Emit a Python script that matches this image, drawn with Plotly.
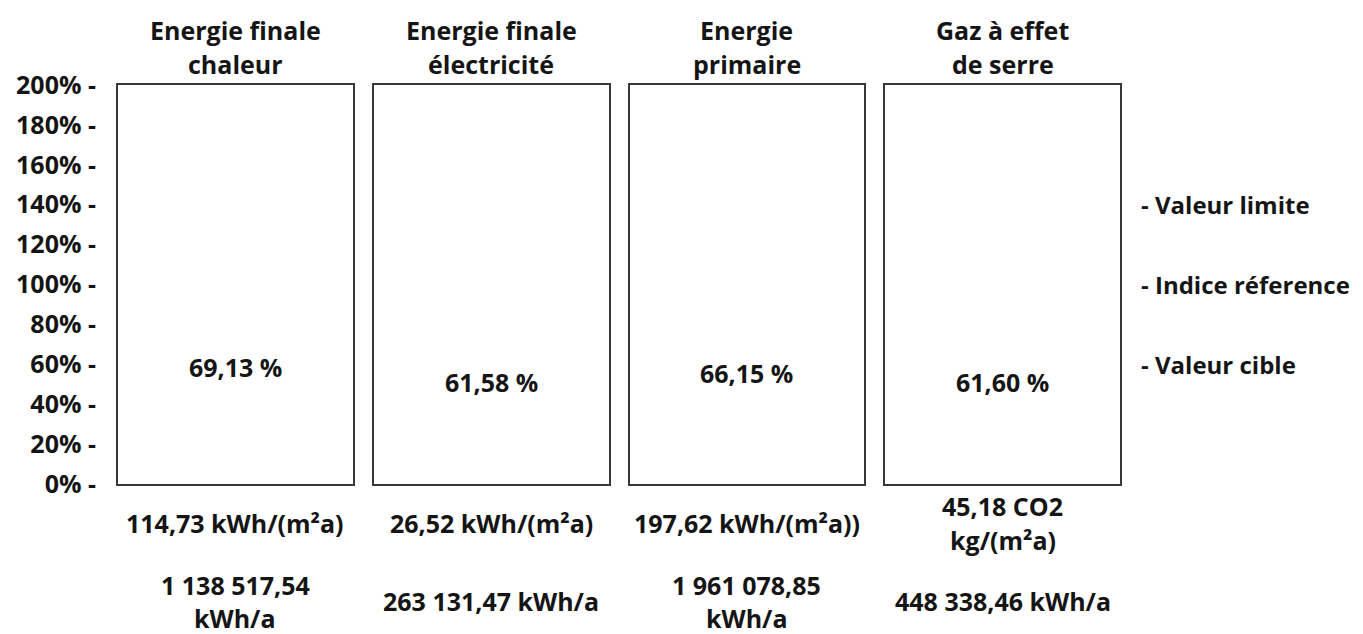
import plotly.graph_objects as go
from plotly.subplots import make_subplots

# ---- data ----
titles = [["Energie finale", "chaleur"],
          ["Energie finale", "électricité"],
          ["Energie", "primaire"],
          ["Gaz à effet", "de serre"]]
percent_values = [69.13, 61.58, 66.15, 61.60]
specific_labels = [["114,73 kWh/(m²a)"],
                   ["26,52 kWh/(m²a)"],
                   ["197,62 kWh/(m²a))"],
                   ["45,18 CO2", "kg/(m²a)"]]
annual_labels = [["1 138 517,54", "kWh/a"],
                 ["263 131,47 kWh/a"],
                 ["1 961 078,85", "kWh/a"],
                 ["448 338,46 kWh/a"]]
y_tick_values = [0, 20, 40, 60, 80, 100, 120, 140, 160, 180, 200]
y_tick_labels = [f"{v}% -" for v in y_tick_values]
ref_levels = [140, 100, 60]
ref_labels = ["- Valeur limite", "- Indice réference", "- Valeur cible"]

FONT = "Open Sans"
FS = 25
WT = 700
TXT = "#151515"
LINE = "#383838"

W, H = 1363, 634
OFF = 8  # page body margin
ML, MR, MT, MB = 118 - OFF, 243 + OFF, 85 - OFF, 150 + OFF
plot_w = W - ML - MR
gap = 21


def fnt(size=FS):
    return dict(family=FONT, size=size, color=TXT, weight=WT)


def add_block(lines, xd, yd, y, center_shift, spacing):
    n = len(lines)
    for k, t in enumerate(lines):
        off = (k - (n - 1) / 2) * spacing
        fig.add_annotation(text=t, xref=xd, yref=yd, x=0.5, y=y,
                           xanchor="center", yanchor="middle",
                           yshift=center_shift - off, showarrow=False,
                           font=fnt())


fig = make_subplots(rows=1, cols=4, horizontal_spacing=gap / plot_w)

for i in range(4):
    col = i + 1
    fig.add_trace(go.Scatter(x=[0.5], y=[percent_values[i]], mode="markers",
                             marker=dict(opacity=0), hoverinfo="skip",
                             showlegend=False), row=1, col=col)
    fig.update_xaxes(range=[0, 1], showline=True, mirror=True, linecolor=LINE,
                     linewidth=2, showticklabels=False, showgrid=False,
                     zeroline=False, ticks="", automargin=False, row=1, col=col)
    fig.update_yaxes(range=[0, 200], showline=True, mirror=True, linecolor=LINE,
                     linewidth=2, showgrid=False, zeroline=False, ticks="",
                     automargin=False, showticklabels=(i == 0), row=1, col=col)
    xd = "x domain" if i == 0 else f"x{col} domain"
    yd = "y domain" if i == 0 else f"y{col} domain"
    yr = "y" if i == 0 else f"y{col}"

    lines = titles[i]
    n = len(lines)
    for k, t in enumerate(lines):
        fig.add_annotation(text=t, xref=xd, yref=yd, x=0.5, y=1,
                           xanchor="center", yanchor="middle",
                           yshift=21 + (n - 1 - k) * 34, showarrow=False,
                           font=fnt())
    fig.add_annotation(text=f"{percent_values[i]:.2f}".replace(".", ",") + " %",
                       xref=xd, yref=yr, x=0.5, y=percent_values[i],
                       xanchor="center", yanchor="middle", yshift=-21,
                       showarrow=False, font=fnt())
    add_block(specific_labels[i], xd, yd, 0, -39, 34)
    add_block(annual_labels[i], xd, yd, 0, -117, 33)

fig.update_yaxes(tickvals=y_tick_values, ticktext=y_tick_labels,
                 ticklabelstandoff=15, tickfont=fnt(), row=1, col=1)

for lvl, lab in zip(ref_levels, ref_labels):
    fig.add_annotation(text=lab, xref="paper", yref="y", x=(1139 - OFF - ML) / plot_w,
                       y=lvl, xanchor="left", yanchor="middle", showarrow=False,
                       font=fnt(24))

fig.update_layout(width=W, height=H, margin=dict(l=ML, r=MR, t=MT, b=MB, autoexpand=False),
                  paper_bgcolor="white", plot_bgcolor="white",
                  font=fnt())

fig.write_html("out.html")
